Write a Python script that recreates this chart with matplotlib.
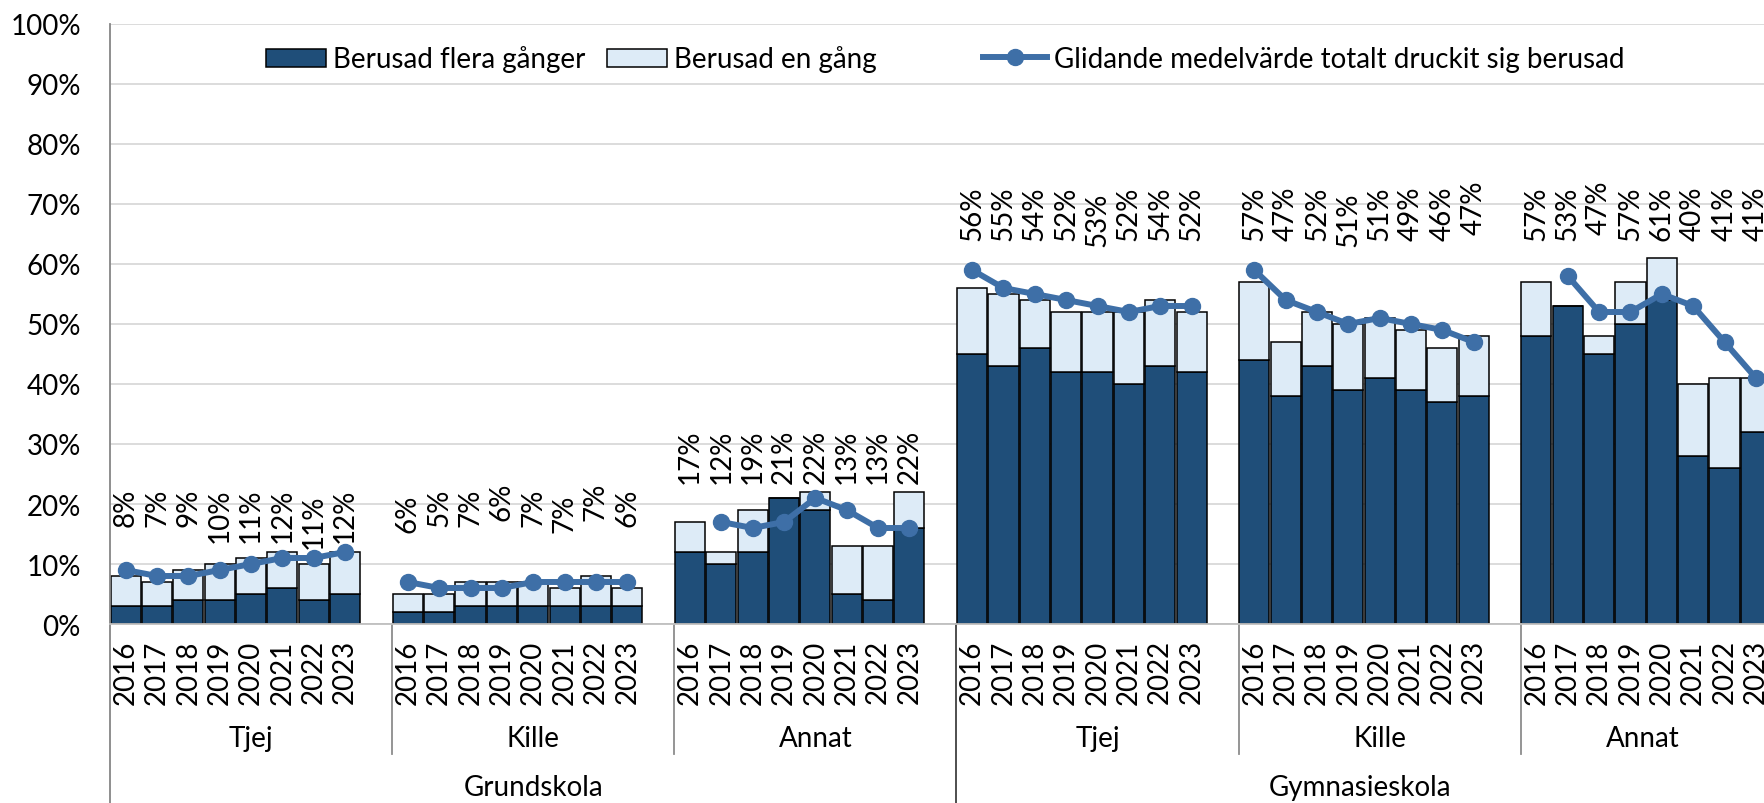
import matplotlib
matplotlib.use("Agg")
import matplotlib.pyplot as plt
import matplotlib.transforms as mtransforms
from matplotlib.patches import Patch
from matplotlib.lines import Line2D

plt.rcParams['font.family'] = ['Lato', 'DejaVu Sans']

# ---------------- data ----------------
years = ["2016", "2017", "2018", "2019", "2020", "2021", "2022", "2023"]
subgroups = ["Tjej", "Kille", "Annat", "Tjej", "Kille", "Annat"]
schools = ["Grundskola", "Gymnasieskola"]

# total share drunk (bar height) per subgroup
total = [
    [8, 7, 9, 10, 11, 12, 10, 12],
    [5, 5, 7, 7, 7, 6, 8, 6],
    [17, 12, 19, 21, 22, 13, 13, 22],
    [56, 55, 54, 52, 52, 52, 54, 52],
    [57, 47, 52, 50, 51, 49, 46, 48],
    [57, 53, 48, 57, 61, 40, 41, 41],
]
# drunk several times (dark part)
flera = [
    [3, 3, 4, 4, 5, 6, 4, 5],
    [2, 2, 3, 3, 3, 3, 3, 3],
    [12, 10, 12, 21, 19, 5, 4, 16],
    [45, 43, 46, 42, 42, 40, 43, 42],
    [44, 38, 43, 39, 41, 39, 37, 38],
    [48, 53, 45, 50, 54, 28, 26, 32],
]
# data labels shown above bars
labels = [
    [8, 7, 9, 10, 11, 12, 11, 12],
    [6, 5, 7, 6, 7, 7, 7, 6],
    [17, 12, 19, 21, 22, 13, 13, 22],
    [56, 55, 54, 52, 53, 52, 54, 52],
    [57, 47, 52, 51, 51, 49, 46, 47],
    [57, 53, 47, 57, 61, 40, 41, 41],
]
# moving average (None = no point)
moving = [
    [9, 8, 8, 9, 10, 11, 11, 12],
    [7, 6, 6, 6, 7, 7, 7, 7],
    [None, 17, 16, 17, 21, 19, 16, 16],
    [59, 56, 55, 54, 53, 52, 53, 53],
    [59, 54, 52, 50, 51, 50, 49, 47],
    [None, 58, 52, 52, 55, 53, 47, 41],
]

# ---------------- style ----------------
DARK = '#1F4E79'
LIGHT = '#DDEBF7'
LINE = '#3E6FA7'
FS = 20
W, H = 1764, 804
label_top = [22.8, 22.8, 32.5, 73.0, 73.0, 73.0]   # layout: top of rotated labels

fig = plt.figure(figsize=(W / 100, H / 100), dpi=100)
ax_left, ax_top, ax_bottom = 110, 25, 625
slot = 31.35
nslots = 54
ax = fig.add_axes([ax_left / W, 1 - ax_bottom / H, nslots * slot / W, (ax_bottom - ax_top) / H])

slots_per_group = len(years) + 1
xticks, xlabels = [], []
for g in range(len(subgroups)):
    xs = [g * slots_per_group + i for i in range(len(years))]
    fl = [v / 100 for v in flera[g]]
    en = [(t - f) / 100 for t, f in zip(total[g], flera[g])]
    ax.bar(xs, fl, width=0.96, color=DARK, edgecolor='black', linewidth=1.1, zorder=2)
    ax.bar(xs, en, bottom=fl, width=0.96, color=LIGHT, edgecolor='black', linewidth=1.1, zorder=2)
    mx = [x for x, m in zip(xs, moving[g]) if m is not None]
    my = [m / 100 for m in moving[g] if m is not None]
    ax.plot(mx, my, color=LINE, lw=4.3, marker='o', ms=11.5, zorder=3)
    for x, t, lab in zip(xs, total[g], labels[g]):
        y = (label_top[g] + (t - lab)) / 100
        ax.text(x, y, f"{lab}%", rotation=90, ha='center', va='top', fontsize=FS, zorder=4)
    xticks += xs
    xlabels += years

ax.set_xlim(-0.5, nslots - 0.5)
ax.set_ylim(0, 1)
ax.set_yticks([i / 10 for i in range(11)])
ax.set_yticklabels([f"{i*10}%" for i in range(11)], fontsize=FS)
ax.set_xticks(xticks)
ax.set_xticklabels(xlabels, rotation=90, fontsize=FS, va='top')
ax.tick_params(axis='y', length=0, pad=21)
ax.tick_params(axis='x', length=0, pad=11)
ax.grid(axis='y', color='#D9D9D9', lw=1.3, zorder=0)
ax.set_axisbelow(True)
for s in ['top', 'right']:
    ax.spines[s].set_visible(False)
ax.spines['left'].set_color('#868686')
ax.spines['left'].set_linewidth(1.3)
ax.spines['bottom'].set_color('#BFBFBF')
ax.spines['bottom'].set_linewidth(1.3)

trans = mtransforms.blended_transform_factory(ax.transData, fig.transFigure)
yb = 1 - ax_bottom / H
for g in range(1, len(subgroups)):
    x = g * slots_per_group - 0.5
    if g % 3 == 0:
        ax.plot([x, x], [yb, 0], transform=trans, color='#404040', lw=1.3, clip_on=False)
    else:
        ax.plot([x, x], [yb, 1 - 755 / H], transform=trans, color='#8C8C8C', lw=1.3, clip_on=False)
ax.plot([-0.5, -0.5], [yb, 0], transform=trans, color='#868686', lw=1.3, clip_on=False)

# visible right edge (figure cut) in data coords
fig.canvas.draw()
x_right_vis = ax.transData.inverted().transform((W, 0))[0]

for g, name in enumerate(subgroups):
    x0 = g * slots_per_group - 0.5
    x1 = min(x0 + slots_per_group, x_right_vis)
    ax.text((x0 + x1) / 2, 1 - 739 / H, name, transform=trans, ha='center', va='center', fontsize=FS)
for s, name in enumerate(schools):
    x0 = s * 3 * slots_per_group - 0.5
    x1 = min(x0 + 3 * slots_per_group, x_right_vis)
    ax.text((x0 + x1) / 2, 1 - 788 / H, name, transform=trans, ha='center', va='center', fontsize=FS)

# legends
h1 = [Patch(facecolor=DARK, edgecolor='black', lw=1.1), Patch(facecolor=LIGHT, edgecolor='black', lw=1.1)]
leg1 = ax.legend(h1, ["Berusad flera gånger", "Berusad en gång"], ncol=2, frameon=False,
                 loc='center left', bbox_to_anchor=(266 / W, 1 - 60 / H), bbox_transform=fig.transFigure,
                 fontsize=FS, handlelength=2.15, handleheight=0.62, handletextpad=0.25,
                 columnspacing=0.8, borderpad=0, borderaxespad=0)
ax.add_artist(leg1)
h2 = [Line2D([], [], color=LINE, lw=4.3, marker='o', ms=11.5)]
ax.legend(h2, ["Glidande medelvärde totalt druckit sig berusad"], frameon=False,
          loc='center left', bbox_to_anchor=(983 / W, 1 - 60 / H), bbox_transform=fig.transFigure,
          fontsize=FS, handlelength=2.3, handletextpad=0.25, borderpad=0, borderaxespad=0)

fig.savefig("out.png", dpi=100)
